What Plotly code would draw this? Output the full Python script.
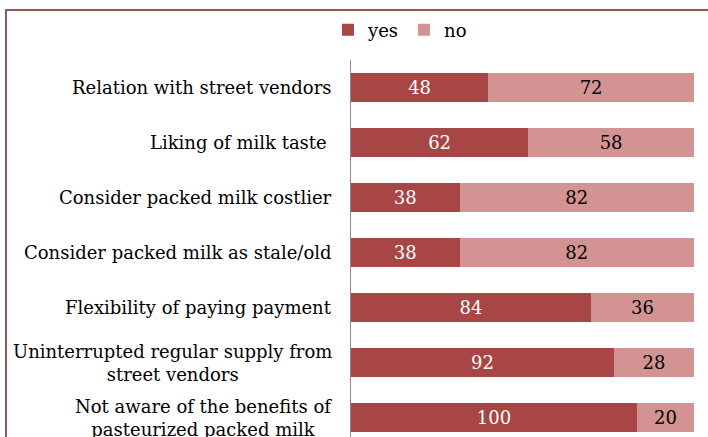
import plotly.graph_objects as go

categories = [
    "Relation with street vendors",
    "Liking of milk taste\u00a0",
    "Consider packed milk costlier",
    "Consider packed milk as stale/old",
    "Flexibility of paying payment",
    "Uninterrupted regular supply from<br>street vendors",
    "Not aware of the benefits of<br>pasteurized packed milk",
]
yes_values = [48, 62, 38, 38, 84, 92, 100]
no_values = [72, 58, 82, 82, 36, 28, 20]

W, H = 708, 437
ML, MR, MT, MB = 351, 14, 60, 0
FONT = "DejaVu Serif"

fig = go.Figure()
fig.add_trace(go.Bar(
    y=list(range(len(categories))), x=yes_values, orientation="h", name="yes",
    marker=dict(color="#A84545", line=dict(width=0)),
    text=yes_values, textposition="inside", insidetextanchor="middle",
    textfont=dict(family=FONT, size=18, color="white"),
))
fig.add_trace(go.Bar(
    y=list(range(len(categories))), x=no_values, orientation="h", name="no",
    marker=dict(color="#D39393", line=dict(width=0)),
    text=no_values, textposition="inside", insidetextanchor="middle",
    textfont=dict(family=FONT, size=18, color="black"),
))

for i, c in enumerate(categories):
    fig.add_annotation(
        x=0, xref="paper", y=i, yref="y", text=c, showarrow=False,
        xanchor="right", yanchor="middle", align="center", xshift=-17,
        font=dict(family=FONT, size=18, color="black"),
    )

plot_w = W - ML - MR
plot_h = H - MT - MB
px_per_cat = 55.0
y_bottom = -0.5 + plot_h / px_per_cat

# outer frame (dark red), extends past right/bottom like the cropped original
fx0 = (6 - ML) / plot_w
fy1 = 1 + (MT - 10) / plot_h
fig.add_shape(type="rect", xref="paper", yref="paper",
              x0=fx0, x1=1.2, y0=-0.2, y1=fy1,
              line=dict(color="#7A1F1F", width=1.5), layer="below")

fig.update_layout(
    width=W, height=H,
    margin=dict(l=ML, r=MR, t=MT, b=MB),
    barmode="stack", bargap=0.49,
    paper_bgcolor="white", plot_bgcolor="white",
    showlegend=True,
    legend=dict(orientation="h", x=400 / W, xref="container",
                xanchor="center", y=1 - 30 / H, yref="container", yanchor="middle",
                font=dict(family=FONT, size=18, color="black"),
                itemwidth=30, traceorder="normal"),
    xaxis=dict(range=[0, 120], visible=False, fixedrange=True),
    yaxis=dict(range=[y_bottom, -0.5], showticklabels=False, ticks="",
               showline=True, linecolor="#8C8C8C", linewidth=1.2,
               showgrid=False, zeroline=False),
    uniformtext=dict(mode=False),
)

fig.write_html("out.html")
